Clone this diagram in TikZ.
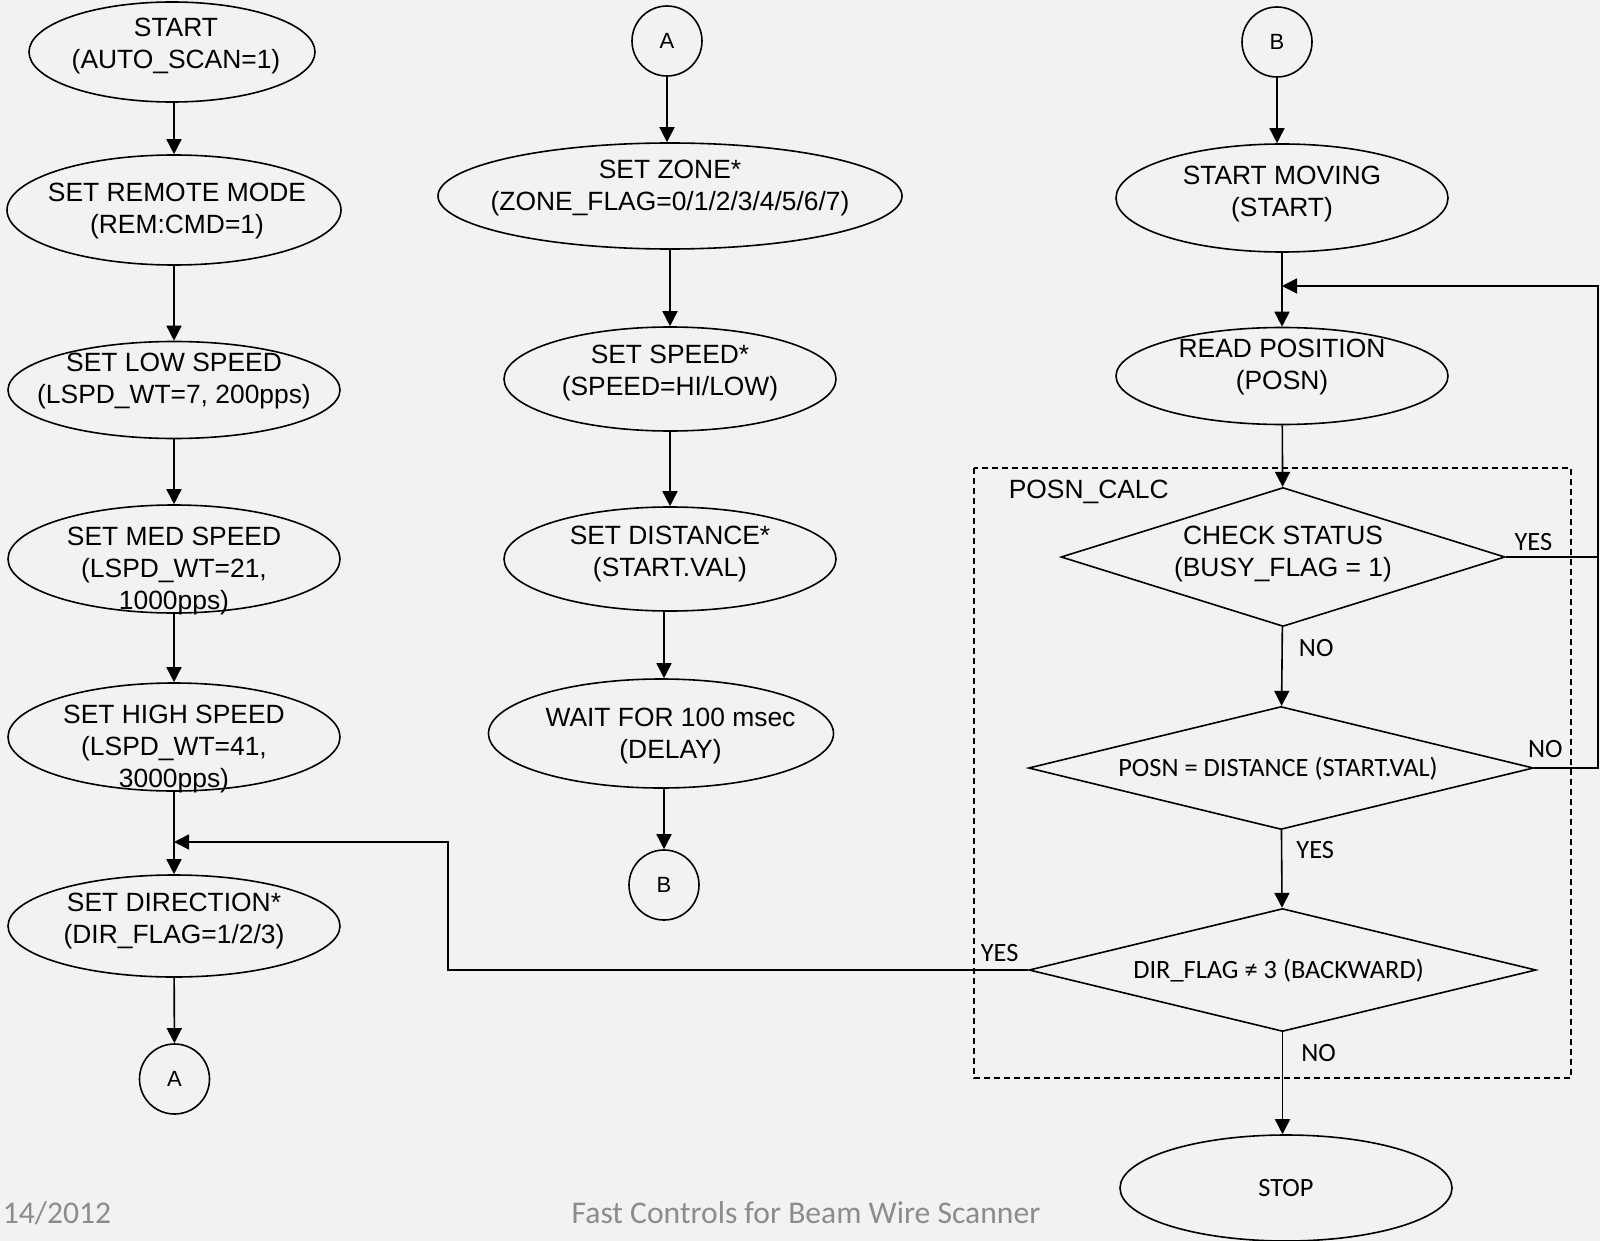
\documentclass[tikz,border=0pt]{standalone}
\usepackage{fontspec}
\setmainfont{Liberation Sans}
\newfontfamily\calfont{Carlito}
\usetikzlibrary{shapes.geometric,arrows.meta}

\definecolor{bgc}{HTML}{F2F2F2}
\definecolor{footc}{HTML}{8C8C8C}

\tikzset{
  txt/.style    = {align=center, inner sep=0pt, font=\fontsize{13.2}{16}\selectfont},
  ctxt/.style   = {align=center, inner sep=0pt, font=\calfont\fontsize{13.2}{16}\selectfont},
  proc/.style   = {draw, ellipse, inner sep=0pt, minimum width=166pt, minimum height=54pt},
  decide/.style = {draw, diamond, inner sep=0pt},
  conn/.style   = {draw, circle, inner sep=0pt, minimum size=35pt, font=\fontsize{11}{13}\selectfont},
  lbl/.style    = {inner sep=0pt, font=\calfont\fontsize{13.2}{16}\selectfont},
  foot/.style   = {inner sep=0pt, text=footc, font=\calfont\fontsize{15.8}{18}\selectfont},
}

\begin{document}
\begin{tikzpicture}[x=0.5pt, y=-0.5pt, line width=0.8pt, >={Triangle[length=7.5pt,width=7.5pt]}]

  \fill[bgc] (0,0) rectangle (1600,1241);
  \useasboundingbox (0,0) rectangle (1600,1241);

  % left column
  \node[proc, minimum width=143pt, minimum height=50pt,
        label={[txt, xshift=2pt, yshift=3pt]center:{START\\(AUTO\_SCAN=1)}}]   (start)   at (172,52)  {};
  \node[proc, minimum width=167pt, minimum height=55pt,
        label={[txt, xshift=1.5pt, yshift=-0.5pt]center:{SET REMOTE MODE\\(REM:CMD=1)}}] (remote) at (174,210) {};
  \node[proc, minimum height=48.5pt,
        label={[txt, yshift=4.5pt]center:{SET LOW SPEED\\(LSPD\_WT=7, 200pps)}}] (lowspd) at (174,390) {};
  \node[proc,
        label={[txt, yshift=-6pt]center:{SET MED SPEED\\(LSPD\_WT=21,\\1000pps)}}] (medspd) at (174,559) {};
  \node[proc,
        label={[txt, yshift=-6pt]center:{SET HIGH SPEED\\(LSPD\_WT=41,\\3000pps)}}] (highspd) at (174,737) {};
  \node[proc, minimum height=51pt,
        label={[txt, yshift=2.5pt]center:{SET DIRECTION*\\(DIR\_FLAG=1/2/3)}}] (setdir) at (174,926) {};
  \node[conn] (conA) at (174.5,1079) {A};

  \draw [->] (start.south -| remote) -- (remote);
  \draw [->] (remote)  -- (lowspd);
  \draw [->] (lowspd)  -- (medspd);
  \draw [->] (medspd)  -- (highspd);
  \draw [->] (highspd) -- (setdir);
  \draw [->] (setdir)  -- (conA);

  % middle column
  \node[conn] (conA2) at (667,41) {A};
  \node[proc, minimum width=232pt, minimum height=53pt,
        label={[txt, yshift=4pt]center:{SET ZONE*\\(ZONE\_FLAG=0/1/2/3/4/5/6/7)}}] (zone) at (670,196) {};
  \node[proc, minimum height=52pt,
        label={[txt, yshift=3pt]center:{SET SPEED*\\(SPEED=HI/LOW)}}]        (speed) at (670,379) {};
  \node[proc, minimum height=52pt,
        label={[txt, yshift=2.5pt]center:{SET DISTANCE*\\(START.VAL)}}]      (dist)  at (670,559) {};
  \node[proc, minimum width=172.5pt, minimum height=54.5pt,
        label={[txt, xshift=4.75pt, yshift=-1.5pt]center:{WAIT FOR 100 msec\\(DELAY)}}] (wait) at (661,733.5) {};
  \node[conn] (conB) at (664,885) {B};

  \draw [->] (conA2) -- (conA2 |- zone.north);
  \draw [->] (zone)  -- (speed);
  \draw [->] (speed) -- (dist);
  \draw [->] (dist.south -| conB) -- (wait.north -| conB);
  \draw [->] (wait.south -| conB) -- (conB);

  % right column
  \node[conn] (conB2) at (1277,42) {B};
  \node[proc,
        label={[txt, yshift=2pt]center:{START MOVING\\(START)}}]     (move)    at (1282,198) {};
  \node[proc, minimum height=48.5pt,
        label={[txt, yshift=4.5pt]center:{READ POSITION\\(POSN)}}]   (readpos) at (1282,376) {};

  \draw [dash pattern=on 3pt off 2pt] (974,468) rectangle (1571,1078);
  \node[txt, anchor=base west] (calc) at (1008,498) {POSN\_CALC};

  \node[decide, minimum width=222pt, minimum height=69.5pt,
        label={[txt, yshift=1.5pt]center:{CHECK STATUS\\(BUSY\_FLAG = 1)}}]       (chkstat) at (1283,557) {};
  \node[decide, minimum width=252.5pt, minimum height=61.5pt,
        label={[ctxt, xshift=-1.5pt, yshift=-0.5pt]center:{POSN = DISTANCE (START.VAL)}}] (posneq) at (1281,768) {};
  \node[decide, minimum width=253.5pt, minimum height=61.5pt,
        label={[ctxt, xshift=-2pt, yshift=-0.5pt]center:{DIR\_FLAG ≠ 3 (BACKWARD)}}]     (dirchk) at (1282.5,970) {};
  \node[proc, ctxt, minimum height=53pt] (stop) at (1286,1188) {STOP};

  \draw [->] (conB2)   -- (conB2 |- move.north);
  \draw [->] (move)    -- (readpos);
  \draw [->] (readpos) -- (chkstat);
  \draw [->] (chkstat) -- node[lbl, pos=.27, right=8pt] (no1) {NO} (posneq);
  \draw [->] (posneq)  -- node[lbl, pos=.25, right=7pt] (yes2) {YES} (dirchk);
  \draw [->] (dirchk.south) -- node[lbl, pos=.2, right=9pt] (no3) {NO} (dirchk.south |- stop.north);

  % loops back
  \coordinate (fbtop) at (1598,286);
  \draw [->] (posneq.east)
        -- node[lbl, pos=0, anchor=south west, xshift=-3.5pt, yshift=5pt] (no2) {NO} (posneq.east -| fbtop)
        -- (fbtop) -- (fbtop -| readpos.north);
  \draw (chkstat.east)
        -- node[lbl, pos=0, anchor=south west, xshift=4pt, yshift=3pt] (yes1) {YES} (chkstat.east -| fbtop);

  \coordinate (bend) at (448,842);
  \draw [->] (dirchk.west)
        -- node[lbl, pos=0, anchor=south east, xshift=-4.5pt, yshift=4pt] (yes3) {YES} (dirchk.west -| bend)
        -- (bend) -- (bend -| setdir.north);

  % footer
  \node[foot, anchor=west] (date)  at (2,1213)   {14/2012};
  \node[foot]              (title) at (806,1213) {Fast Controls for Beam Wire Scanner};

\end{tikzpicture}
\end{document}
